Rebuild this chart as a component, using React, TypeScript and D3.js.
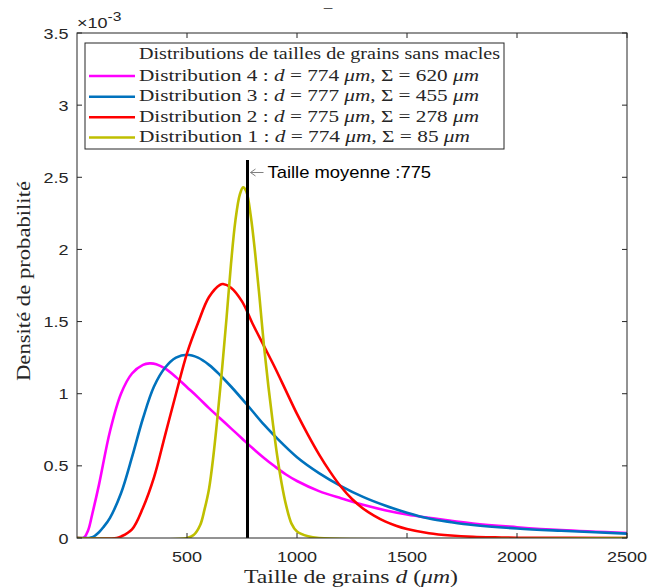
import React from "react";
import * as d3 from "d3";

// ---- data (density values in units of 1e-3) ----
const xD4 = [0, 30, 50, 70, 100, 150, 200, 250, 300, 330, 360, 400, 450, 500, 550, 600, 650, 700, 750, 800, 850, 900, 950, 1000, 1100, 1200, 1300, 1400, 1500, 1600, 1800, 2000, 2200, 2500];
const yD4 = [0, 0, 0.05, 0.17, 0.37, 0.74, 1.0, 1.14, 1.2, 1.21, 1.205, 1.175, 1.115, 1.045, 0.975, 0.9, 0.83, 0.76, 0.69, 0.62, 0.555, 0.495, 0.44, 0.395, 0.325, 0.275, 0.23, 0.193, 0.163, 0.14, 0.1, 0.075, 0.055, 0.035];

const xD3 = [0, 50, 70, 100, 120, 150, 200, 250, 300, 350, 400, 450, 500, 550, 600, 650, 700, 775, 850, 900, 1000, 1100, 1200, 1300, 1400, 1500, 1600, 1700, 1800, 2000, 2200, 2500];
const yD3 = [0, 0, 0.005, 0.04, 0.075, 0.14, 0.31, 0.56, 0.83, 1.05, 1.18, 1.25, 1.27, 1.25, 1.2, 1.13, 1.05, 0.92, 0.785, 0.705, 0.56, 0.45, 0.36, 0.285, 0.225, 0.175, 0.135, 0.11, 0.09, 0.066, 0.05, 0.03];

const xD2 = [0, 180, 200, 250, 300, 350, 400, 450, 500, 550, 600, 650, 664, 700, 750, 800, 850, 900, 950, 1000, 1050, 1100, 1150, 1200, 1250, 1300, 1350, 1400, 1450, 1500, 1600, 1700, 1800, 1900, 2000, 2500];
const yD2 = [0, 0, 0.01, 0.06, 0.21, 0.42, 0.71, 1.0, 1.28, 1.49, 1.67, 1.755, 1.76, 1.735, 1.64, 1.48, 1.33, 1.18, 1.02, 0.86, 0.715, 0.58, 0.46, 0.355, 0.27, 0.205, 0.155, 0.115, 0.085, 0.062, 0.033, 0.017, 0.008, 0.004, 0.002, 0];

const xD1 = [0, 500, 530, 560, 580, 600, 620, 640, 660, 680, 700, 720, 740, 755, 770, 790, 810, 830, 850, 870, 890, 910, 930, 950, 975, 1000, 1050, 1100, 2500];
const yD1 = [0, 0, 0.02, 0.09, 0.2, 0.34, 0.57, 0.86, 1.18, 1.53, 1.9, 2.2, 2.38, 2.43, 2.4, 2.23, 1.97, 1.66, 1.33, 1.05, 0.8, 0.57, 0.38, 0.23, 0.1, 0.045, 0.012, 0, 0];

const meanSize = 775;
const meanLineTop = 2.62;

const xTicks = [500, 1000, 1500, 2000, 2500];
const yTicks = [0, 0.5, 1, 1.5, 2, 2.5, 3, 3.5];

const seriesNames = ["Distribution 4", "Distribution 3", "Distribution 2", "Distribution 1"];
const seriesD = ["774", "777", "775", "774"];
const seriesSigma = ["620", "455", "278", "85"];
const seriesColors = ["#FF00FF", "#0072BD", "#FF0000", "#BFBF00"];
const seriesX = [xD4, xD3, xD2, xD1];
const seriesY = [yD4, yD3, yD2, yD1];

const W = 648;
const H = 587;
const L = 77, R = 627, T = 33, B = 538;
const AX = "#262626";
const SANS = "Liberation Sans, Arial, sans-serif";
const SERIF = "Liberation Serif, Times New Roman, serif";
const SX = 1.2; // horizontal stretch of the reference picture

function SText(props: { x: number; y: number; anchor?: string; size?: number; sx?: number; fill?: string; children: React.ReactNode }) {
  const { x, y, anchor = "start", size = 15, sx = SX, fill = AX, children } = props;
  return (
    <text
      transform={`translate(${x},${y}) scale(${sx},1)`}
      textAnchor={anchor}
      fontFamily={SANS}
      fontSize={size}
      fill={fill}
    >
      {children}
    </text>
  );
}

export default function App() {
  const x = d3.scaleLinear().domain([0, 2500]).range([L, R]);
  const y = d3.scaleLinear().domain([0, 3.5]).range([B, T]);
  const line = d3
    .line<[number, number]>()
    .x((d) => x(d[0]))
    .y((d) => y(d[1]))
    .curve(d3.curveCatmullRom.alpha(0.5));

  const legendRowsY = [76, 96.7, 117.3, 137.5];
  const legendLens = [340, 340, 340, 331];

  return (
    <svg width={W} height={H} style={{ position: "absolute", left: 0, top: 0, background: "#fff" }}>
      <rect x={0} y={0} width={W} height={H} fill="#fff" />
      <defs>
        <clipPath id="clip">
          <rect x={L} y={T} width={R - L} height={B - T} />
        </clipPath>
      </defs>
      {/* title placeholder */}
      <SText x={328} y={12} anchor="middle" size={13} fill="#555">–</SText>

      {/* curves */}
      <g clipPath="url(#clip)">
        {seriesX.map((xs, i) => (
          <path
            key={i}
            d={line(xs.map((v, j) => [v, Math.max(0, seriesY[i][j])] as [number, number])) || ""}
            fill="none"
            stroke={seriesColors[i]}
            strokeWidth={2.6}
            strokeLinejoin="round"
          />
        ))}
      </g>

      {/* mean line */}
      <line x1={x(meanSize)} x2={x(meanSize)} y1={y(0)} y2={y(meanLineTop)} stroke="#000" strokeWidth={3} />
      {/* annotation */}
      <g stroke="#808080" strokeWidth={1} fill="none">
        <line x1={x(meanSize) + 3} x2={x(meanSize) + 16} y1={172.5} y2={172.5} />
        <polyline points={`${x(meanSize) + 8},169 ${x(meanSize) + 3},172.5 ${x(meanSize) + 8},176`} />
      </g>
      <SText x={x(meanSize) + 20} y={177.5} size={16} sx={1.15} fill="#000">
        Taille moyenne :775
      </SText>

      {/* axes frame */}
      <rect x={L} y={T} width={R - L} height={B - T} fill="none" stroke={AX} strokeWidth={1} />
      {xTicks.map((t) => (
        <g key={"xt" + t}>
          <line x1={x(t)} x2={x(t)} y1={B} y2={B - 5} stroke={AX} />
          <line x1={x(t)} x2={x(t)} y1={T} y2={T + 5} stroke={AX} />
          <SText x={x(t)} y={562} anchor="middle">{t}</SText>
        </g>
      ))}
      {yTicks.map((t) => (
        <g key={"yt" + t}>
          <line x1={L} x2={L + 5} y1={y(t)} y2={y(t)} stroke={AX} />
          <line x1={R} x2={R - 5} y1={y(t)} y2={y(t)} stroke={AX} />
          <SText x={68.5} y={y(t) + 5.5} anchor="end">{t}</SText>
        </g>
      ))}
      {/* exponent */}
      <SText x={77} y={28} size={15}>
        ×10<tspan dy={-7} fontSize={13}>-3</tspan>
      </SText>

      {/* axis labels */}
      <text
        x={351}
        y={583}
        textAnchor="middle"
        fontFamily={SERIF}
        fontSize={19}
        fill={AX}
        textLength={214}
        lengthAdjust="spacingAndGlyphs"
      >
        Taille de grains <tspan fontStyle="italic">d</tspan> (<tspan fontStyle="italic">μm</tspan>)
      </text>
      <text
        transform={`translate(29.5,281) rotate(-90)`}
        textAnchor="middle"
        fontFamily={SERIF}
        fontSize={19}
        fill={AX}
        textLength={200}
        lengthAdjust="spacingAndGlyphs"
      >
        Densité de probabilité
      </text>

      {/* legend */}
      <rect x={85} y={43} width={419} height={106} fill="#fff" stroke={AX} strokeWidth={1} />
      <text
        x={139}
        y={59.3}
        fontFamily={SERIF}
        fontSize={17.5}
        fill={AX}
        textLength={361}
        lengthAdjust="spacingAndGlyphs"
      >
        Distributions de tailles de grains sans macles
      </text>
      {seriesNames.map((n, i) => (
        <g key={"lg" + i}>
          <line x1={89} x2={135} y1={legendRowsY[i]} y2={legendRowsY[i]} stroke={seriesColors[i]} strokeWidth={2.6} />
          <text
            x={139}
            y={legendRowsY[i] + 4.5}
            fontFamily={SERIF}
            fontSize={17.5}
            fill={AX}
            textLength={legendLens[i]}
            lengthAdjust="spacingAndGlyphs"
          >
            {n} : <tspan fontStyle="italic">d</tspan> = {seriesD[i]} <tspan fontStyle="italic">μm</tspan>, Σ = {seriesSigma[i]}{" "}
            <tspan fontStyle="italic">μm</tspan>
          </text>
        </g>
      ))}
    </svg>
  );
}
